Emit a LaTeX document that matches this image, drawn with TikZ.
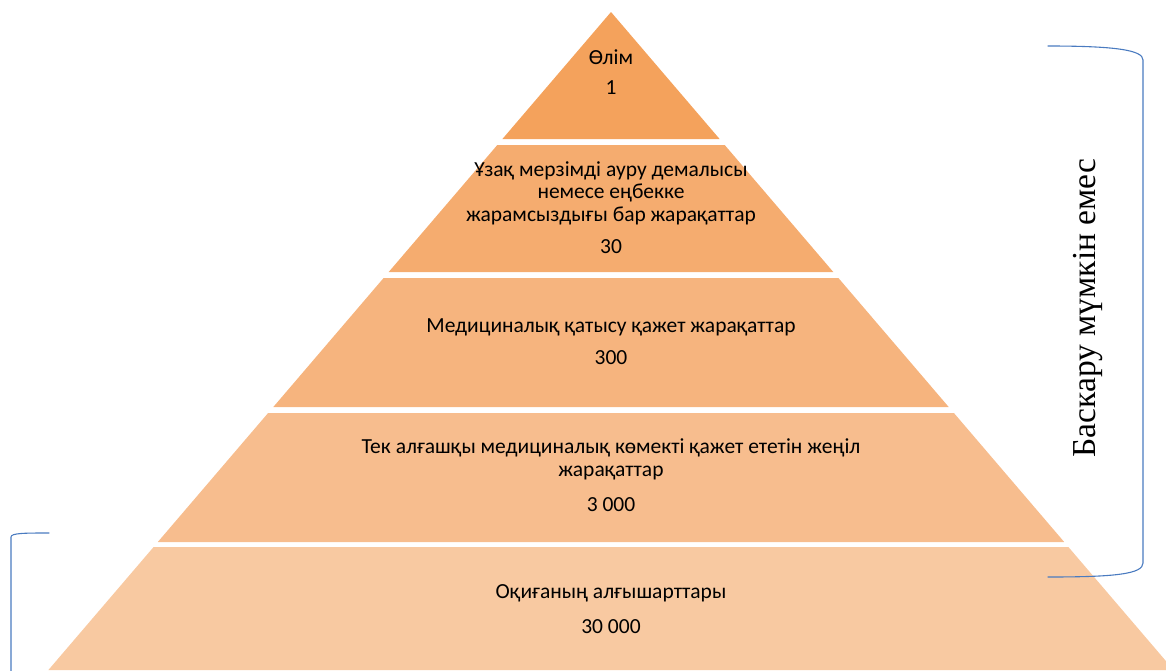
\documentclass[tikz,border=0pt]{standalone}
\usepackage{fontspec}
\setmainfont{Carlito}
\newfontfamily\serifkk{Liberation Serif}
\definecolor{layA}{HTML}{F4A25C}
\definecolor{layB}{HTML}{F5AC6F}
\definecolor{layC}{HTML}{F6B47E}
\definecolor{layD}{HTML}{F7BD8E}
\definecolor{layE}{HTML}{F8C9A1}
\definecolor{brblue}{HTML}{4A7BC0}
\begin{document}
\begin{tikzpicture}[x=1pt,y=-1pt,
  lbl/.style={font=\fontsize{21.5}{22.5}\selectfont, align=center, inner sep=0pt, text=black},
  brk/.style={draw=brblue, line width=1.1pt, line cap=round}]
\useasboundingbox (0,0) rectangle (1166,670);
\clip (0,0) rectangle (1166,670);
% layers (slices of triangle, apex (611,12), slope 0.855)
\fill[layA] (611,12) -- (719.6,139) -- (502.4,139) -- cycle;
\fill[layB] (497.3,145) -- (724.7,145) -- (833.3,272) -- (388.7,272) -- cycle;
\fill[layC] (383.6,278) -- (838.4,278) -- (948.7,407) -- (273.3,407) -- cycle;
\fill[layD] (268.1,413) -- (953.9,413) -- (1064.2,542) -- (157.8,542) -- cycle;
\fill[layE] (153.6,547) -- (1068.4,547) -- (1173.6,670) -- (48.4,670) -- cycle;
% texts
\node[lbl] (t1) at (611,57) {Өлім};
\node[lbl] (n1) at (611,88) {1};
\node[lbl] (t2) at (611,193) {Ұзақ мерзімді ауру демалысы\\немесе еңбекке\\жарамсыздығы бар жарақаттар};
\node[lbl] (n2) at (611,247) {30};
\node[lbl] (t3) at (611,327) {Медициналық қатысу қажет жарақаттар};
\node[lbl] (n3) at (611,358) {300};
\node[lbl] (t4) at (611,459.5) {Тек алғашқы медициналық көмекті қажет ететін жеңіл\\жарақаттар};
\node[lbl] (n4) at (611,505) {3 000};
\node[lbl] (t5) at (611,593) {Оқиғаның алғышарттары};
\node[lbl] (n5) at (611,627) {30 000};
% right bracket
\coordinate (rbA) at (1048,46);
\coordinate (rbB) at (1143,60);
\coordinate (rbC) at (1143,563);
\coordinate (rbD) at (1048,577);
\draw[brk] (rbA) .. controls (1115,46) and (1143,50) .. (rbB) -- (rbC) .. controls (1143,574) and (1115,577) .. (rbD);
\node[rotate=90, inner sep=0pt, font=\serifkk\fontsize{33.5}{36}\selectfont] (side) at (1088,308) {Баскару мүмкін емес};
% left bracket
\coordinate (lbA) at (49,533);
\coordinate (lbB) at (11,537);
\coordinate (lbC) at (11,672);
\draw[brk] (lbA) .. controls (25,533) and (11,533) .. (lbB) -- (lbC);
\end{tikzpicture}
\end{document}
